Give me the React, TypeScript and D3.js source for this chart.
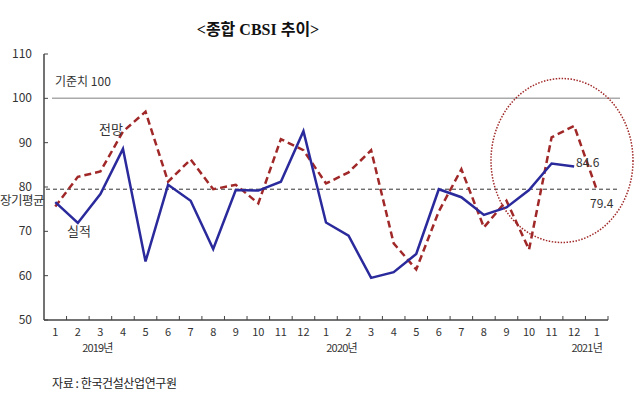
import * as d3 from "d3";

const months = ["1", "2", "3", "4", "5", "6", "7", "8", "9", "10", "11", "12", "1", "2", "3", "4", "5", "6", "7", "8", "9", "10", "11", "12", "1"];
const actual = [76.6, 71.9, 78.4, 88.6, 63.2, 80.5, 76.9, 66.0, 79.3, 79.2, 81.2, 92.6, 72.0, 69.0, 59.5, 60.8, 64.9, 79.5, 77.7, 73.7, 75.4, 79.3, 85.3, 84.6];
const forecast = [75.6, 82.3, 83.5, 92.5, 97.0, 81.2, 86.2, 79.5, 80.5, 76.3, 90.8, 88.3, 80.8, 83.3, 88.3, 67.3, 61.4, 74.5, 84.0, 70.9, 76.9, 65.9, 91.2, 93.8, 79.4];
const yTicks = [50, 60, 70, 80, 90, 100, 110];
const years = [
  { label: "2019년", idx: 2, dx: -3 },
  { label: "2020년", idx: 13, dx: -7 },
  { label: "2021년", idx: 24, dx: -10 },
];
const baseline = 100;
const longAvg = 79.5;

const W = 640;
const H = 395;
const left = 44;
const right = 608;
const top = 54;
const bottom = 320;

const FONT = "'Noto Sans CJK KR', 'DejaVu Sans', sans-serif";

export default function App() {
  const keys = months.map((_, i) => String(i));
  const x = d3.scaleBand().domain(keys).range([left, right]);
  const y = d3.scaleLinear().domain([50, 110]).range([bottom, top]);
  const cx = (i: number) => (x(String(i)) ?? 0) + x.bandwidth() / 2;

  const line = d3
    .line<number>()
    .x((_, i) => cx(i))
    .y((d) => y(d));

  return (
    <svg
      width={W}
      height={H}
      style={{ position: "absolute", left: 0, top: 0, background: "white" }}
    >
      <text
        x={258}
        y={35}
        textAnchor="middle"
        fontFamily="'Liberation Serif', 'Noto Sans CJK KR', serif"
        fontSize={16}
        fontWeight="bold"
        fill="#111"
      >
        {"<종합 CBSI 추이>"}
      </text>

      {/* reference lines */}
      <line x1={52} x2={620} y1={y(baseline)} y2={y(baseline)} stroke="#aaa" strokeWidth={1.5} />
      <line
        x1={46}
        x2={620}
        y1={y(longAvg)}
        y2={y(longAvg)}
        stroke="#333"
        strokeWidth={1}
        strokeDasharray="4,3"
      />

      {/* y axis */}
      <line x1={left} x2={left} y1={top} y2={bottom} stroke="#444" strokeWidth={1.5} />
      {yTicks.map((t) => (
        <g key={t}>
          <line x1={left} x2={left + 4} y1={y(t)} y2={y(t)} stroke="#444" />
          <text x={32} y={y(t) + 4} textAnchor="end" fontFamily={FONT} fontSize={12} fill="#333">
            {t}
          </text>
        </g>
      ))}

      {/* x axis */}
      <line x1={left} x2={right} y1={bottom} y2={bottom} stroke="#444" strokeWidth={1.5} />
      {keys.map((k) => (
        <line
          key={k}
          x1={(x(k) ?? 0) + x.bandwidth()}
          x2={(x(k) ?? 0) + x.bandwidth()}
          y1={bottom}
          y2={bottom - 4}
          stroke="#444"
        />
      ))}
      {months.map((m, i) => (
        <text key={i} x={cx(i)} y={336} textAnchor="middle" fontFamily={FONT} fontSize={11} fill="#333">
          {m}
        </text>
      ))}
      {years.map((yr) => (
        <text
          key={yr.label}
          x={cx(yr.idx) + yr.dx}
          y={352}
          textAnchor="middle"
          fontFamily={FONT}
          fontSize={11}
          fill="#333"
          letterSpacing={-0.8}
        >
          {yr.label}
        </text>
      ))}

      {/* series */}
      <path
        d={line(forecast) ?? ""}
        fill="none"
        stroke="#a02828"
        strokeWidth={2.5}
        strokeDasharray="7,4"
      />
      <path d={line(actual) ?? ""} fill="none" stroke="#2a2a9c" strokeWidth={2.5} />

      {/* highlight circle */}
      <ellipse
        cx={562}
        cy={160.5}
        rx={71}
        ry={82}
        fill="none"
        stroke="#a02828"
        strokeWidth={1.5}
        strokeDasharray="1.5,1.5"
      />

      {/* annotations */}
      <text x={55} y={86} fontFamily={FONT} fontSize={12} fill="#333">
        기준치 100
      </text>
      <text x={99} y={134} fontFamily={FONT} fontSize={13} fill="#333">
        전망
      </text>
      <text x={67} y={236} fontFamily={FONT} fontSize={13} fill="#333">
        실적
      </text>
      <text x={0} y={205} fontFamily={FONT} fontSize={12.5} fill="#333" letterSpacing={-0.5}>
        장기평균
      </text>
      <text x={576} y={167} fontFamily={FONT} fontSize={12} fill="#333">
        {actual[actual.length - 1].toFixed(1)}
      </text>
      <text x={590} y={208} fontFamily={FONT} fontSize={12} fill="#333">
        {forecast[forecast.length - 1].toFixed(1)}
      </text>

      <text x={52} y={388} fontFamily={FONT} fontSize={12} fill="#222" letterSpacing={-0.4}>
        자료 : 한국건설산업연구원
      </text>
    </svg>
  );
}
